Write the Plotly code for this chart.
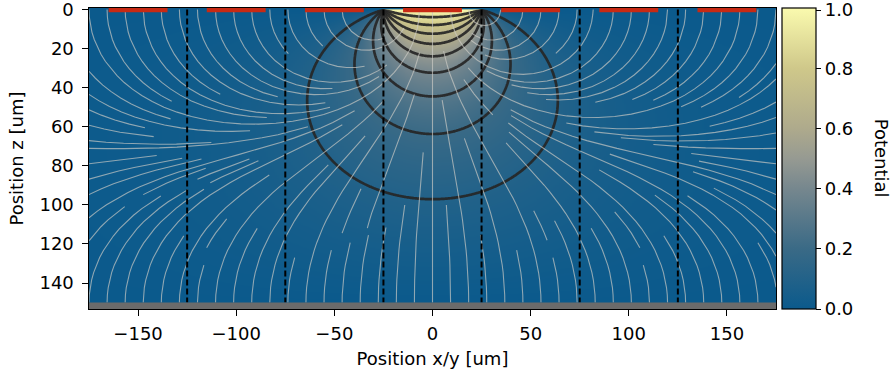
import math
import numpy as np
import plotly.graph_objects as go

# ---------------- data / geometry ----------------
SENSOR_THICKNESS = 150.0          # um
WEIGHTING_ELECTRODE_WIDTH = 50.0  # um (pixel pitch used for the weighting potential)
X_LIMITS = [-175.0, 175.0]
Z_AXIS_RANGE = [153.3, -0.8]
PIXEL_CENTERS = [-150, -100, -50, 0, 50, 100, 150]
IMPLANT_WIDTH = 30.0
PIXEL_BORDERS = [-125, -75, -25, 25, 75, 125]
BACKPLANE_Z = [150.0, 153.3]
CONTOUR_LEVELS = [0.1, 0.2, 0.3, 0.4, 0.5, 0.6, 0.7, 0.8, 0.9]
X_TICKS = [-150, -100, -50, 0, 50, 100, 150]
Z_TICKS = [0, 20, 40, 60, 80, 100, 120, 140]
POTENTIAL_TICKS = [0.0, 0.2, 0.4, 0.6, 0.8, 1.0]
STREAM_DENSITY = 1.3

COLORSCALE = [
    [0.0, "#0b5a8c"],
    [0.2, "#3a6a86"],
    [0.4, "#76878e"],
    [0.5, "#969a92"],
    [0.6, "#aeaa8c"],
    [0.8, "#cfc88a"],
    [1.0, "#fafaae"],
]

D = SENSOR_THICKNESS
W = WEIGHTING_ELECTRODE_WIDTH
K = math.pi / (2 * D)


def weighting_potential(x, z):
    T = np.tan(K * (z - D))
    A = np.tanh(K * (x + W / 2))
    B = np.tanh(K * (x - W / 2))
    return -1.0 / np.pi * (np.arctan(T * A) - np.arctan(T * B))


def efield(x, z):
    zz = max(z, 1e-4)
    T = math.tan(K * (zz - D))
    A = math.tanh(K * (x + W / 2))
    B = math.tanh(K * (x - W / 2))
    dA = (1 - A * A) * K
    dB = (1 - B * B) * K
    dT = (1 + T * T) * K
    gA = 1.0 / (1 + T * T * A * A)
    gB = 1.0 / (1 + T * T * B * B)
    dphidx = -1 / math.pi * (T * dA * gA - T * dB * gB)
    dphidz = -1 / math.pi * (dT * A * gA - dT * B * gB)
    return -dphidx, -dphidz


# ---------------- potential grid ----------------
x_grid = np.unique(np.round(np.concatenate([np.arange(-175, 175.01, 1.0),
                                            np.arange(-40, 40.01, 0.5)]), 3))
z_grid = np.unique(np.round(np.concatenate([np.arange(0, 20, 0.2),
                                            np.arange(20, 150.01, 0.5)]), 3))
XX, ZZ = np.meshgrid(x_grid, z_grid)
PHI = weighting_potential(XX, ZZ).astype(np.float32)

# ---------------- streamlines (matplotlib streamplot algorithm) ----------------
LX = X_LIMITS[1] - X_LIMITS[0]
LZ = D
N = int(30 * STREAM_DENSITY)
mask = np.zeros((N, N), dtype=bool)
MAXLEN = 4.0 / 2.0
MINLEN = 0.1
MAXERR = 0.003
MAXDS = min(1.0 / N, 0.1)


class Stop(Exception):
    pass


def gen_start(nx, ny):
    xfirst, yfirst, xlast, ylast = 0, 1, nx - 1, ny - 1
    x, y = 0, 0
    direction = "right"
    for _ in range(nx * ny):
        yield x, y
        if direction == "right":
            x += 1
            if x >= xlast:
                xlast -= 1
                direction = "up"
        elif direction == "up":
            y += 1
            if y >= ylast:
                ylast -= 1
                direction = "left"
        elif direction == "left":
            x -= 1
            if x <= xfirst:
                xfirst += 1
                direction = "down"
        elif direction == "down":
            y -= 1
            if y <= yfirst:
                yfirst += 1
                direction = "right"


def inside(fx, fz):
    return 0 <= fx <= 1 and 0 <= fz <= 1


def fdir(fx, fz, sgn):
    if not inside(fx, fz):
        raise IndexError
    ex, ez = efield(X_LIMITS[0] + fx * LX, fz * LZ)
    u, v = ex / LX, ez / LZ
    n = math.hypot(u, v)
    if n == 0 or not math.isfinite(n):
        raise Stop
    return sgn * u / n, sgn * v / n


state = {"cur": None, "traj": []}


def update(fx, fz):
    xm, ym = int(fx * (N - 1) + 0.5), int(fz * (N - 1) + 0.5)
    if state["cur"] != (xm, ym):
        if not mask[ym, xm]:
            state["traj"].append((ym, xm))
            mask[ym, xm] = True
            state["cur"] = (xm, ym)
        else:
            raise Stop


def euler_to_edge(traj, sgn):
    fx, fz = traj[-1]
    cx, cz = fdir(fx, fz, sgn)
    dsx = math.inf if cx == 0 else (fx / -cx if cx < 0 else (1 - fx) / cx)
    dsz = math.inf if cz == 0 else (fz / -cz if cz < 0 else (1 - fz) / cz)
    ds = min(dsx, dsz)
    traj.append((fx + cx * ds, fz + cz * ds))
    return ds


def rk12(x0, z0, sgn):
    ds = MAXDS
    stotal = 0.0
    xi, zi = x0, z0
    traj = []
    while True:
        try:
            if inside(xi, zi):
                traj.append((xi, zi))
            else:
                raise IndexError
            k1x, k1z = fdir(xi, zi, sgn)
            k2x, k2z = fdir(xi + ds * k1x, zi + ds * k1z, sgn)
        except IndexError:
            if traj:
                try:
                    stotal += euler_to_edge(traj, sgn)
                except (IndexError, Stop):
                    pass
            break
        except Stop:
            break
        dx1, dz1 = ds * k1x, ds * k1z
        dx2, dz2 = ds * 0.5 * (k1x + k2x), ds * 0.5 * (k1z + k2z)
        error = math.hypot(dx2 - dx1, dz2 - dz1)
        if error < MAXERR:
            xi += dx2
            zi += dz2
            try:
                update(xi, zi)
            except (Stop, IndexError):
                break
            if stotal + ds > MAXLEN:
                break
            stotal += ds
        if error == 0:
            ds = MAXDS
        else:
            ds = min(MAXDS, 0.85 * ds * (MAXERR / error) ** 0.5)
    return stotal, traj


stream_x, stream_z = [], []
for xm, ym in gen_start(N, N):
    if mask[ym, xm]:
        continue
    fx0, fz0 = xm / (N - 1), ym / (N - 1)
    state["traj"] = []
    state["cur"] = None
    update(fx0, fz0)
    s1, p1 = rk12(fx0, fz0, -1)
    state["cur"] = (xm, ym)
    s2, p2 = rk12(fx0, fz0, 1)
    if s1 + s2 > MINLEN:
        pts = p1[::-1] + p2[1:]
        stream_x.extend([round(X_LIMITS[0] + p[0] * LX, 2) for p in pts] + [None])
        stream_z.extend([round(p[1] * LZ, 2) for p in pts] + [None])
    else:
        for (cy, cx) in state["traj"]:
            mask[cy, cx] = False

# ---------------- figure ----------------
FONT = dict(family="DejaVu Sans", size=18, color="black")
cbar_vals = [min(v, 0.993) for v in POTENTIAL_TICKS]

fig = go.Figure()
fig.add_trace(go.Heatmap(
    x=x_grid, y=z_grid, z=PHI, zmin=0, zmax=1, colorscale=COLORSCALE,
    hoverinfo="skip",
    colorbar=dict(
        x=1.0087, xanchor="left", xpad=0, y=0.5, yanchor="middle", len=1.0,
        ypad=0, thickness=34, outlinecolor="black", outlinewidth=1.2,
        tickvals=cbar_vals, ticktext=[f"{v:.1f}" for v in POTENTIAL_TICKS],
        ticks="outside", ticklen=5, tickwidth=1.2, tickcolor="black",
        tickfont=FONT, ticklabeloverflow="allow",
    ),
))
fig.add_trace(go.Contour(
    x=x_grid, y=z_grid, z=PHI, showscale=False, hoverinfo="skip",
    contours=dict(start=CONTOUR_LEVELS[0], end=CONTOUR_LEVELS[-1],
                  size=0.1, coloring="none"),
    line=dict(color="rgba(38,38,38,0.92)", width=2.7, smoothing=1),
))
fig.add_trace(go.Scatter(
    x=stream_x, y=stream_z, mode="lines", hoverinfo="skip",
    line=dict(color="rgba(205,203,198,0.68)", width=1.1),
    connectgaps=False, showlegend=False,
))

shapes = []
for xb in PIXEL_BORDERS:
    shapes.append(dict(type="line", xref="x", yref="y", x0=xb, x1=xb,
                       y0=0, y1=BACKPLANE_Z[0], layer="above",
                       line=dict(color="black", width=2, dash="6px,3px")))
shapes.append(dict(type="rect", xref="x", yref="y", x0=X_LIMITS[0], x1=X_LIMITS[1],
                   y0=BACKPLANE_Z[0], y1=BACKPLANE_Z[1], layer="above",
                   fillcolor="#6b6b6b", line=dict(width=0)))
for c in PIXEL_CENTERS:
    shapes.append(dict(type="rect", xref="x", yref="y",
                       x0=c - IMPLANT_WIDTH / 2, x1=c + IMPLANT_WIDTH / 2,
                       y0=-1.3, y1=1.4, layer="above",
                       fillcolor="#c82a14", line=dict(width=0)))

fig.update_layout(
    width=895, height=374,
    margin=dict(l=89, r=119, t=8, b=65, autoexpand=False),
    paper_bgcolor="white", plot_bgcolor="#0b5a8c",
    font=FONT, showlegend=False,
    shapes=shapes,
    annotations=[dict(text="Potential", xref="paper", yref="paper",
                      x=1.154, y=0.5, showarrow=False, textangle=90,
                      font=FONT, xanchor="center", yanchor="middle")],
)
fig.update_xaxes(
    range=X_LIMITS, tickvals=X_TICKS, ticks="outside", ticklen=5.5, tickwidth=1.2,
    tickcolor="black", showline=True, linecolor="black", linewidth=1.2, mirror=True,
    showgrid=False, zeroline=False, tickfont=FONT, automargin=False,
    ticklabeloverflow="allow", ticklabelstandoff=3,
    title=dict(text="Position x/y [um]", font=FONT, standoff=9),
)
fig.update_yaxes(
    range=Z_AXIS_RANGE, tickvals=Z_TICKS, ticks="outside", ticklen=5.5, tickwidth=1.2,
    tickcolor="black", showline=True, linecolor="black", linewidth=1.2, mirror=True,
    showgrid=False, zeroline=False, tickfont=FONT, automargin=False,
    ticklabeloverflow="allow", ticklabelstandoff=5,
    title=dict(text="Position z [um]", font=FONT, standoff=11),
)

fig.write_html("out.html", config={"displayModeBar": False},
               post_script="document.body.style.margin='0px';")
